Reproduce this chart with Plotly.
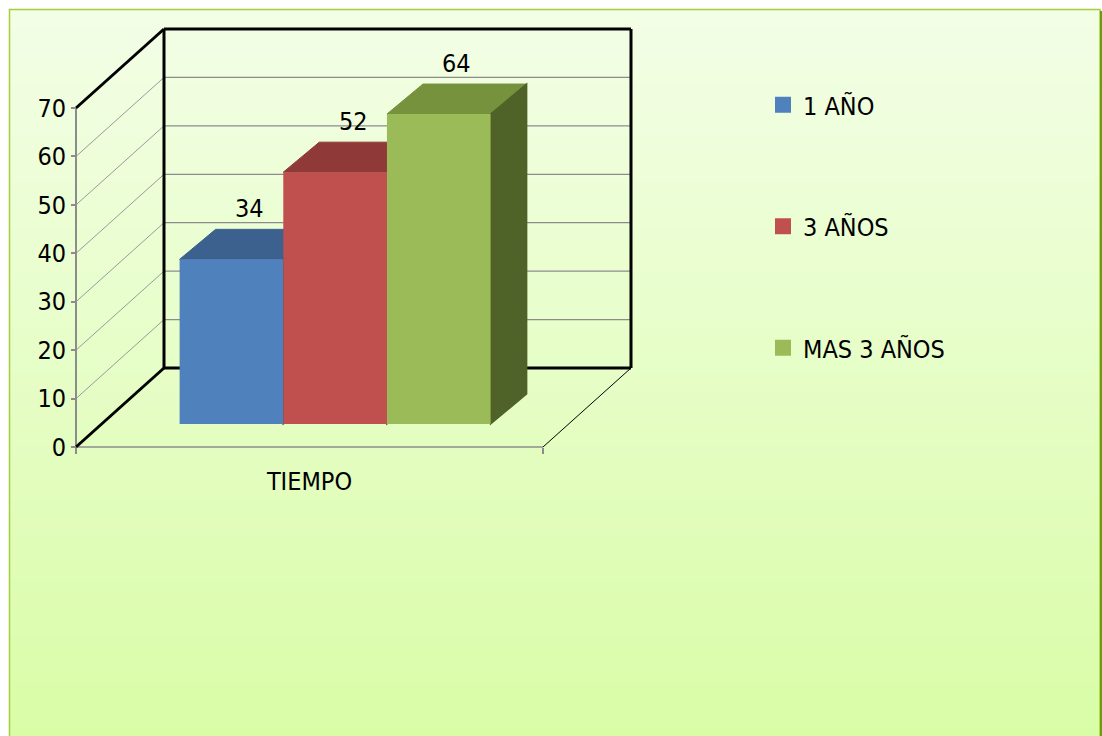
import plotly.graph_objects as go

# ---------------- data ----------------
categories = ["TIEMPO"]
series_names = ["1 AÑO", "3 AÑOS", "MAS 3 AÑOS"]
values_1_ano = [34]
values_3_anos = [52]
values_mas_3_anos = [64]
y_tick_values = [0, 10, 20, 30, 40, 50, 60, 70]

series_values = [values_1_ano, values_3_anos, values_mas_3_anos]

# ---------------- style ----------------
front_colors = ["#4F81BD", "#C0504D", "#9BBB59"]
top_colors = ["#3C618E", "#8F3A38", "#76923C"]
side_colors = ["#2F4D73", "#7A2F2D", "#4F6228"]
FONT = "Liberation Sans Narrow, DejaVu Sans Condensed, Arial Narrow, sans-serif"
FS = 25

W, H = 1102, 736
# pixel layout of the front plane (used only to set axis ranges)
AX_X0, AX_X1 = 76, 543        # front floor edge, left/right
Y0_PX, YTOP_PX = 447, 108     # pixel of value 0 and value 70 on front axis
YMAX = y_tick_values[-1]
k = (Y0_PX - YTOP_PX) / YMAX  # px per value unit
cw = AX_X1 - AX_X0            # px per category unit
y_range = [-(H - Y0_PX) / k, Y0_PX / k]
x_range = [-0.5 - AX_X0 / cw, -0.5 + (W - AX_X0) / cw]

# depth geometry (converted to data units)
DX = 88 / cw                  # wall depth
DY = 79 / k
FRONT_F = 23 / 79             # bars' front plane depth fraction
FDX, FDY = FRONT_F * DX, FRONT_F * DY
BDX, BDY = 36 / cw, 30 / k    # bar depth
BARGAP = 1 - 311 / 467
group_w = 1 - BARGAP
bw = group_w / len(series_names)

fig = go.Figure()
shapes = []

# background gradient (paper)
top_rgb = (243, 254, 230)
bot_rgb = (217, 253, 167)
N = 80
fx0, fx1 = 9.5 / W, 1100 / W
ftop = 1 - 9.5 / H
for i in range(N):
    t = i / (N - 1)
    c = tuple(round(top_rgb[j] + (bot_rgb[j] - top_rgb[j]) * t) for j in range(3))
    y1 = ftop - ftop * i / N
    y0 = ftop - ftop * (i + 1) / N - 0.002
    shapes.append(dict(type="rect", xref="paper", yref="paper", x0=fx0, x1=fx1,
                       y0=max(y0, 0), y1=y1, fillcolor="rgb(%d,%d,%d)" % c,
                       line=dict(width=0), layer="below"))
# frame border
shapes.append(dict(type="rect", xref="paper", yref="paper", x0=fx0, x1=fx1,
                   y0=-0.01, y1=ftop, line=dict(color="#A3CF3A", width=1.5),
                   fillcolor="rgba(0,0,0,0)", layer="below"))
shapes.append(dict(type="line", xref="paper", yref="paper", x0=1101 / W, x1=1101 / W,
                   y0=0, y1=1 - 11 / H, line=dict(color="#6E9A10", width=2), layer="below"))

XL, XR = -0.5, 0.5


def line(x0, y0, x1, y1, color, width):
    shapes.append(dict(type="line", xref="x", yref="y", x0=x0, y0=y0, x1=x1, y1=y1,
                       line=dict(color=color, width=width), layer="below"))


# gridlines on side wall and back wall
for t in y_tick_values[1:-1]:
    line(XL, t, XL + DX, t + DY, "#9A9A9A", 1)
    line(XL + DX, t + DY, XR + DX, t + DY, "#8C8C8C", 1.3)
# floor front edge and right edge
line(XL, 0, XR, 0, "#8C8C8C", 1.5)
line(XR, 0, XR + DX, DY, "#000000", 1)
# front value axis
line(XL, 0, XL, YMAX, "#8C8C8C", 2)
# thick wall outlines
line(XL, YMAX, XL + DX, YMAX + DY, "#000000", 3)
line(XL, 0, XL + DX, DY, "#000000", 3)
line(XL + DX, DY, XL + DX, YMAX + DY, "#000000", 3)
line(XL + DX, YMAX + DY, XR + DX, YMAX + DY, "#000000", 3)
line(XR + DX, DY, XR + DX, YMAX + DY, "#000000", 3)
line(XL + DX, DY, XR + DX, DY, "#000000", 3)

annotations = []
cat_pos = list(range(len(categories)))
for i, (name, vals) in enumerate(zip(series_names, series_values)):
    offs = -group_w / 2 + i * bw + FDX
    for cx, v in zip(cat_pos, vals):
        xl = cx + offs
        xr = xl + bw
        b = FDY
        h = b + v
        # top face
        shapes.append(dict(type="path", xref="x", yref="y", layer="below",
                           path="M %f,%f L %f,%f L %f,%f L %f,%f Z" % (
                               xl, h, xr, h, xr + BDX, h + BDY, xl + BDX, h + BDY),
                           fillcolor=top_colors[i],
                           line=dict(width=1, color=top_colors[i])))
        # side face
        shapes.append(dict(type="path", xref="x", yref="y", layer="below",
                           path="M %f,%f L %f,%f L %f,%f L %f,%f Z" % (
                               xr, b, xr, h, xr + BDX, h + BDY, xr + BDX, b + BDY),
                           fillcolor=side_colors[i],
                           line=dict(width=1.5, color=side_colors[i])))
        annotations.append(dict(x=(xl + xr) / 2 + BDX / 2, y=h + BDY, xref="x", yref="y",
                                text=str(v), showarrow=False, yanchor="middle", yshift=21,
                                font=dict(family=FONT, size=FS, color="#000000")))
    fig.add_trace(go.Bar(x=cat_pos, y=vals, base=[FDY] * len(vals), width=bw, offset=offs,
                         marker=dict(color=front_colors[i], line=dict(width=0)),
                         showlegend=False, name=name, hoverinfo="skip"))

# legend entries
for i, name in enumerate(series_names):
    fig.add_trace(go.Scatter(x=[None], y=[None], mode="markers", name=name,
                             legendgroup=name,
                             marker=dict(symbol="square", size=16, color=front_colors[i])))

fig.update_layout(
    template="none",
    width=W, height=H,
    margin=dict(l=0, r=0, t=0, b=0),
    paper_bgcolor="#FFFFFF",
    plot_bgcolor="rgba(0,0,0,0)",
    barmode="overlay",
    shapes=shapes,
    annotations=annotations,
    font=dict(family=FONT, size=FS, color="#000000"),
    showlegend=True,
    legend=dict(x=(803 - 40) / W, xanchor="left", y=1 - 82 / H, yanchor="top",
                traceorder="grouped", tracegroupgap=86, bgcolor="rgba(0,0,0,0)",
                font=dict(family=FONT, size=FS, color="#000000")),
    xaxis=dict(range=x_range, domain=[0, 1], anchor="free", position=(H - Y0_PX) / H,
               showgrid=False, zeroline=False, showline=False, automargin=False,
               tickvals=cat_pos, ticktext=categories, ticks="", ticklabelstandoff=17,
               minor=dict(tickvals=[XL, XR], ticks="outside", ticklen=6,
                          tickcolor="#8C8C8C", tickwidth=1.5, showgrid=False),
               tickfont=dict(family=FONT, size=FS, color="#000000"), fixedrange=True),
    yaxis=dict(range=y_range, domain=[0, 1], anchor="free", position=AX_X0 / W,
               showgrid=False, zeroline=False, showline=False, automargin=False,
               tickvals=y_tick_values, ticks="outside", ticklen=5, tickcolor="#8C8C8C",
               tickwidth=1.5,
               tickfont=dict(family=FONT, size=FS, color="#000000"), fixedrange=True),
)

fig.write_html("out.html")
